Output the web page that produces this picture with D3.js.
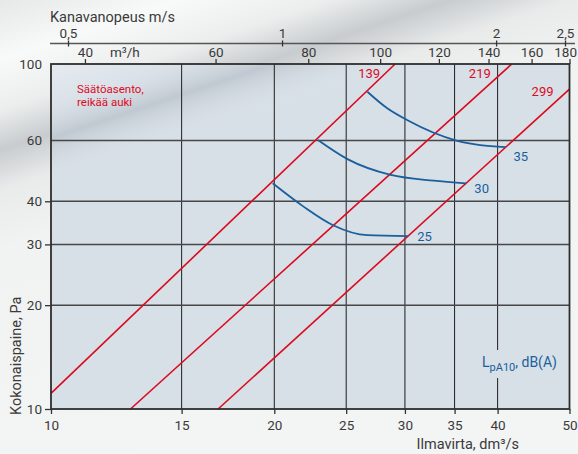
<!DOCTYPE html>
<html>
<head>
<meta charset="utf-8">
<script src="https://cdn.jsdelivr.net/npm/d3@7"></script>
<style>
  body { margin: 0; background: #eff0f0; }
  svg { display: block; font-family: Roboto, sans-serif; }
</style>
</head>
<body>
<script>
// axis values
const flowTicks = [10, 15, 20, 25, 30, 35, 40, 50];
const flowGrid = [15, 20, 25, 30, 35, 40];
const pressureTicks = [10, 20, 30, 40, 60, 100];
const pressureGrid = [20, 30, 40, 60];
const m3hTicks = [40, 60, 80, 100, 120, 140, 160, 180];
const speedTicks = [0.5, 1, 2, 2.5];

// damper lines (holes open), [flow dm3/s, pressure Pa] at both ends
const damperNames = ['139', '219', '299'];
const damper139 = [[10, 11.1], [29.1, 100]];
const damper219 = [[12.8, 10], [41.8, 100]];
const damper299 = [[16.8, 10], [50, 84.6]];

// sound level curves LpA10 dB(A)
const noiseNames = ['25', '30', '35'];
const noise25 = [[19.9, 45.1], [21.9, 38.6], [24.0, 34.1], [26.7, 31.9], [30.3, 31.7]];
const noise30 = [[22.9, 60.2], [25.1, 53.0], [28.7, 47.7], [32.8, 45.9], [36.3, 45.1]];
const noise35 = [[26.7, 83.1], [28.4, 74.4], [30.2, 68.8], [35.3, 59.9], [37.9, 58.2], [41.0, 57.4]];

const W = 578, H = 454;
const red = '#dc0a1e', blue = '#1a5f9c', ink = '#3a3a3a';

const x = d3.scaleLog().domain([10, 50]).range([51, 569.5]);
const y = d3.scaleLog().domain([10, 100]).range([409, 64]);
const m3h = d3.scaleLog().domain([36, 180]).range(x.range());   // m3/h = dm3/s * 3.6
const speed = d3.scaleLog().domain([0.5, 2.5]).range([68, 565]);

const svg = d3.select('body').append('svg').attr('width', W).attr('height', H);
const defs = svg.append('defs');

// background streaks
const bgGrad = defs.append('linearGradient').attr('id', 'bg')
    .attr('gradientUnits', 'userSpaceOnUse')
    .attr('x1', 0).attr('y1', 0).attr('x2', 150).attr('y2', 450);
[[0, '#e6e8e8'], [0.12, '#f8f9f9'], [0.22, '#eceeee'], [0.3, '#c8ccce'],
 [0.38, '#e9ebeb'], [0.5, '#f1f2f2'], [1, '#f3f4f4']]
  .forEach(s => bgGrad.append('stop').attr('offset', s[0]).attr('stop-color', s[1]));

const plotGrad = defs.append('linearGradient').attr('id', 'plotShade')
    .attr('gradientUnits', 'userSpaceOnUse')
    .attr('x1', 0).attr('y1', 0).attr('x2', 150).attr('y2', 450);
[[0, 'rgba(255,255,255,0.3)'], [0.17, 'rgba(255,255,255,0.35)'], [0.24, 'rgba(255,255,255,0.1)'],
 [0.31, 'rgba(110,120,130,0.22)'], [0.4, 'rgba(255,255,255,0.0)'], [1, 'rgba(255,255,255,0)']]
  .forEach(s => plotGrad.append('stop').attr('offset', s[0]).attr('stop-color', s[1]));

svg.append('rect').attr('width', W).attr('height', H).attr('fill', 'url(#bg)');

const [x0, x1] = x.range();
const [y0, y1] = y.range();
const plotColor = '#d7dfe7';
svg.append('rect').attr('x', x0).attr('y', y1).attr('width', x1 - x0).attr('height', y0 - y1)
    .attr('fill', plotColor);
svg.append('rect').attr('x', x0).attr('y', y1).attr('width', x1 - x0).attr('height', y0 - y1)
    .attr('fill', 'url(#plotShade)');

// grid
svg.append('g').selectAll('line').data(flowGrid).join('line')
    .attr('x1', d => x(d)).attr('x2', d => x(d)).attr('y1', y0).attr('y2', y1)
    .attr('stroke', '#1e1e1e').attr('stroke-width', 1);
svg.append('g').selectAll('line').data(pressureGrid).join('line')
    .attr('x1', x0).attr('x2', x1).attr('y1', d => y(d)).attr('y2', d => y(d))
    .attr('stroke', '#474747').attr('stroke-width', 1.5);

// legend label (masks grid line behind it)
const legend = svg.append('text').attr('x', 482).attr('y', 367)
    .attr('fill', blue).attr('font-size', 14);
legend.append('tspan').text('L');
legend.append('tspan').attr('font-size', 11).attr('dy', 4).text('pA10');
legend.append('tspan').attr('dy', -4).text(', dB(A)');
const lb = legend.node().getBBox();
svg.insert('rect', 'text').attr('x', lb.x - 3).attr('y', lb.y - 4)
    .attr('width', lb.width + 6).attr('height', lb.height + 8).attr('fill', plotColor);

// damper lines
const line = d3.line().x(d => x(d[0])).y(d => y(d[1]));
const dampers = [damper139, damper219, damper299];
svg.append('g').selectAll('path').data(dampers).join('path')
    .attr('d', line).attr('fill', 'none').attr('stroke', red).attr('stroke-width', 1.6);

const damperLabelNudge = [[-15, 14], [-21, 14], [-16, 7]];
svg.append('g').selectAll('text').data(dampers).join('text')
    .attr('x', (d, i) => x(d[1][0]) + damperLabelNudge[i][0])
    .attr('y', (d, i) => y(d[1][1]) + damperLabelNudge[i][1])
    .attr('text-anchor', 'end').attr('fill', red).attr('font-size', 13)
    .text((d, i) => damperNames[i]);

// sound curves
const curve = d3.line().x(d => x(d[0])).y(d => y(d[1])).curve(d3.curveMonotoneX);
const noise = [noise25, noise30, noise35];
svg.append('g').selectAll('path').data(noise).join('path')
    .attr('d', curve).attr('fill', 'none').attr('stroke', blue).attr('stroke-width', 1.8);

const noiseLabelNudge = [[9, 5], [8, 10], [8, 14]];
svg.append('g').selectAll('text').data(noise).join('text')
    .attr('x', (d, i) => x(d[d.length - 1][0]) + noiseLabelNudge[i][0])
    .attr('y', (d, i) => y(d[d.length - 1][1]) + noiseLabelNudge[i][1])
    .attr('fill', blue).attr('font-size', 13)
    .text((d, i) => noiseNames[i]);

// frame
svg.append('rect').attr('x', x0).attr('y', y1).attr('width', x1 - x0).attr('height', y0 - y1)
    .attr('fill', 'none').attr('stroke', '#2e2e2e').attr('stroke-width', 1.8);

function styleAxis(g, size) {
  g.select('.domain').remove();
  g.selectAll('.tick line').attr('stroke', '#333').attr('stroke-width', 1.3);
  g.selectAll('.tick text').attr('fill', ink).attr('font-size', size)
      .attr('font-family', 'Roboto, sans-serif');
}

// bottom axis
svg.append('g').attr('transform', `translate(0,${y0})`)
    .call(d3.axisBottom(x).tickValues(flowTicks).tickFormat(d3.format('d')).tickSize(5).tickPadding(6))
    .call(g => styleAxis(g, 13.5));

// left axis
svg.append('g').attr('transform', `translate(${x0},0)`)
    .call(d3.axisLeft(y).tickValues(pressureTicks).tickFormat(d3.format('d')).tickSize(6).tickPadding(3))
    .call(g => styleAxis(g, 13.5))
    .call(g => g.selectAll('.tick line').filter(d => d >= 60).remove());

// top m3/h axis
svg.append('g').attr('transform', `translate(0,${y1})`)
    .call(d3.axisTop(m3h).tickValues(m3hTicks).tickFormat(d3.format('d')).tickSize(5).tickPadding(2))
    .call(g => styleAxis(g, 13.5))
    .call(g => g.selectAll('.tick text').filter(d => d === 180)
        .attr('text-anchor', 'end').attr('dx', 7));

// top m/s axis
const speedY = 43.5;
svg.append('line').attr('x1', x0 - 1).attr('x2', W - 3).attr('y1', speedY).attr('y2', speedY)
    .attr('stroke', '#555').attr('stroke-width', 1.5);
svg.append('g').attr('transform', `translate(0,${speedY})`)
    .call(d3.axisTop(speed).tickValues(speedTicks)
      .tickFormat(d => String(d).replace('.', ',')).tickSizeInner(-3).tickSizeOuter(0).tickPadding(6))
    .call(g => styleAxis(g, 13.5))
    .call(g => g.selectAll('.tick line').attr('y1', -3).attr('y2', 3));

// titles
svg.append('text').attr('x', 50).attr('y', 22).attr('fill', ink).attr('font-size', 14.5)
    .text('Kanavanopeus m/s');
svg.append('text').attr('x', 110).attr('y', 57).attr('fill', ink).attr('font-size', 13.5)
    .text('m³/h');
svg.append('text').attr('x', 519).attr('y', 449).attr('text-anchor', 'end')
    .attr('fill', ink).attr('font-size', 14.5).text('Ilmavirta, dm³/s');
svg.append('text').attr('transform', 'translate(21,415) rotate(-90)')
    .attr('fill', ink).attr('font-size', 14.5).text('Kokonaispaine, Pa');

const note = svg.append('g').attr('fill', red).attr('font-size', 11.5);
note.append('text').attr('x', 77).attr('y', 92.5).text('Säätöasento,');
note.append('text').attr('x', 77).attr('y', 105.5).text('reikää auki');
</script>
</body>
</html>
